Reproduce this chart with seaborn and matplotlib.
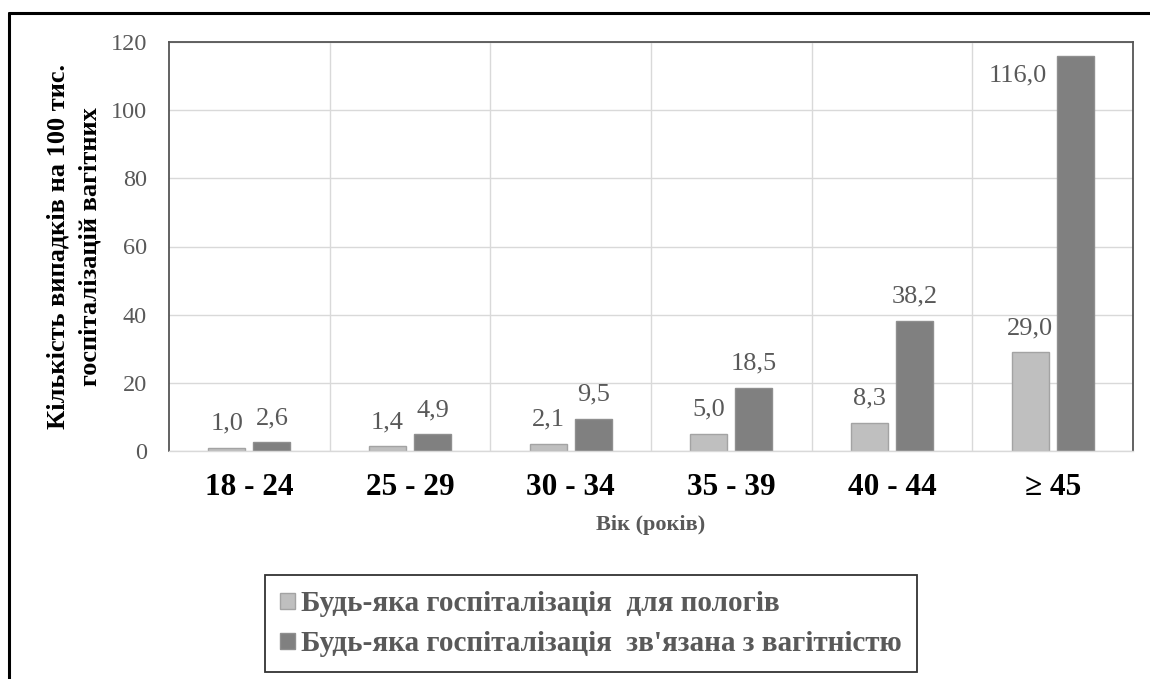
import matplotlib
matplotlib.use("Agg")
import matplotlib.pyplot as plt
from matplotlib.lines import Line2D
from matplotlib.patches import Patch
import seaborn as sns
import pandas as pd

# Age groups and rates per 100k pregnancy hospitalisations
age_groups = ["18 - 24", "25 - 29", "30 - 34", "35 - 39", "40 - 44", "≥ 45"]
delivery = [1.0, 1.4, 2.1, 5.0, 8.3, 29.0]
pregnancy = [2.6, 4.9, 9.5, 18.5, 38.2, 116.0]
series_names = ["Будь-яка госпіталізація  для пологів",
                "Будь-яка госпіталізація  зв'язана з вагітністю"]
y_ticks = [0, 20, 40, 60, 80, 100, 120]

df = pd.DataFrame({
    "age": age_groups * 2,
    "value": delivery + pregnancy,
    "series": [series_names[0]] * len(age_groups) + [series_names[1]] * len(age_groups),
})

sns.set_theme(style="white")
plt.rcParams["font.family"] = ["Liberation Serif", "DejaVu Serif"]

fill_colors = ["#bfbfbf", "#808080"]
edge_colors = ["#a3a3a3", "#8f8f8f"]
label_gray = "#595959"

fig = plt.figure(figsize=(11.5, 6.79), dpi=100)
ax = fig.add_axes([169 / 1150, 1 - 451 / 679, (1133 - 169) / 1150, (451 - 42) / 679])

sns.barplot(data=df, x="age", y="value", hue="series", order=age_groups,
            hue_order=series_names, palette=fill_colors, width=0.56, gap=0.18,
            ax=ax, legend=False, errorbar=None, saturation=1)

for container, ec in zip(ax.containers, edge_colors):
    for bar in container:
        bar.set_edgecolor(ec)
        bar.set_linewidth(1.0)

ax.set_ylim(0, 120)
ax.set_xlim(-0.5, len(age_groups) - 0.5)
ax.set_yticks(y_ticks)
ax.set_yticklabels([str(t) for t in y_ticks], fontsize=17.5, color=label_gray)
ax.set_xticks(range(len(age_groups)))
ax.set_xticklabels(age_groups, fontsize=22.5, fontweight="bold", color="black")
ax.tick_params(axis="y", length=0, pad=16)
ax.tick_params(axis="x", length=0, pad=16)

# grid: horizontal at ticks, vertical at category boundaries
ax.set_xticks([i + 0.5 for i in range(len(age_groups) - 1)], minor=True)
ax.grid(axis="y", color="#d9d9d9", linewidth=1.0)
ax.grid(axis="x", which="minor", color="#d9d9d9", linewidth=1.0)
ax.tick_params(which="minor", length=0)
ax.set_axisbelow(True)

for side in ["left", "top", "right"]:
    ax.spines[side].set_color("#555555")
    ax.spines[side].set_linewidth(1.3)
ax.spines["bottom"].set_color("#d9d9d9")
ax.spines["bottom"].set_linewidth(1.0)

# value labels
for container, values in zip(ax.containers, [delivery, pregnancy]):
    for bar, v in zip(container, values):
        text = f"{v:.1f}".replace(".", ",")
        cx = bar.get_x() + bar.get_width() / 2
        if v > 105:
            ax.annotate(text, xy=(bar.get_x(), v), xytext=(-7, -6),
                        textcoords="offset points", ha="right", va="top",
                        fontsize=19, color=label_gray)
        else:
            ax.annotate(text, xy=(cx, v), xytext=(0, 13),
                        textcoords="offset points", ha="center", va="baseline",
                        fontsize=19, color=label_gray)

ax.set_xlabel("Вік (років)", fontsize=16, fontweight="bold", color=label_gray, labelpad=9)
ax.set_ylabel("Кількість випадків на 100 тис.\nгоспіталізацій вагітних",
              fontsize=19, fontweight="bold", color="black",
              linespacing=1.45)
ax.yaxis.label.set_va("center")
ax.yaxis.set_label_coords(-0.0985, 0.5)

handles = [Patch(facecolor=fc, edgecolor=ec, linewidth=1.0)
           for fc, ec in zip(fill_colors, edge_colors)]
leg = fig.legend(handles, series_names, loc="upper left",
                 bbox_to_anchor=(265 / 1150, 1 - 575 / 679),
                 frameon=True, fancybox=False, framealpha=1,
                 handlelength=0.5, handleheight=0.5, handletextpad=0.2,
                 labelspacing=0.45, borderpad=0.52, borderaxespad=0,
                 prop={"size": 21, "weight": "bold"})
leg.get_frame().set_edgecolor("#333333")
leg.get_frame().set_linewidth(1.3)
for t in leg.get_texts():
    t.set_color(label_gray)

# outer frame on the top and left
fig.add_artist(Line2D([9 / 1150, 1], [1 - 13 / 679] * 2, color="black", linewidth=2.2,
                      transform=fig.transFigure))
fig.add_artist(Line2D([9 / 1150] * 2, [0, 1 - 13 / 679], color="black", linewidth=2.2,
                      transform=fig.transFigure))

fig.savefig("out.png", dpi=100)
